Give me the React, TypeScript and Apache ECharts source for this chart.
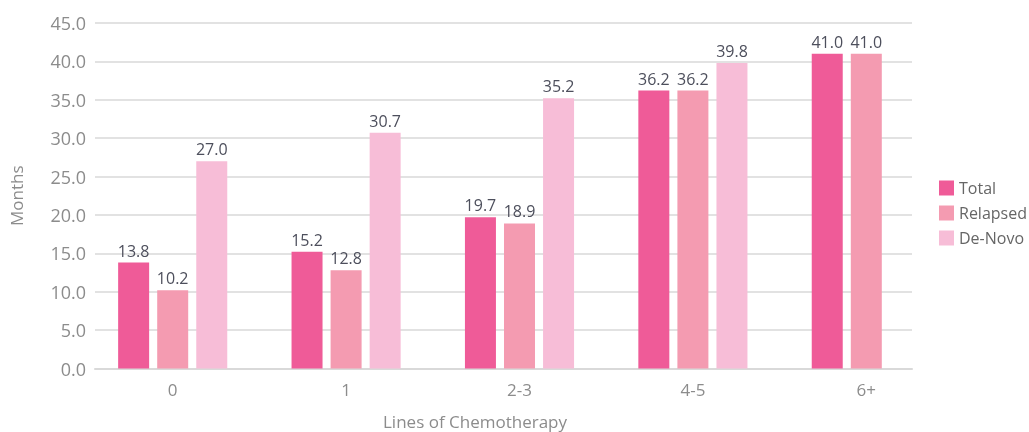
import React, { useEffect, useRef } from "react";
import * as echarts from "echarts";

const categories = ["0", "1", "2-3", "4-5", "6+"];
const totalValues = [13.8, 15.2, 19.7, 36.2, 41.0];
const relapsedValues = [10.2, 12.8, 18.9, 36.2, 41.0];
const deNovoValues: (number | null)[] = [27.0, 30.7, 35.2, 39.8, null];
const seriesNames = ["Total", "Relapsed", "De-Novo"];
const colors = ["#ef5b98", "#f49bb1", "#f7bdd7"];

const FONT = "'Open Sans', sans-serif";

export default function App() {
  const ref = useRef<HTMLDivElement>(null);
  useEffect(() => {
    if (!ref.current) return;
    const chart = echarts.init(ref.current, undefined, { renderer: "svg" });
    const label = {
      show: true,
      position: "top" as const,
      distance: 4,
      color: "#4d4f5c",
      fontSize: 16,
      fontFamily: FONT,
      formatter: (p: any) => (p.value == null ? "" : Number(p.value).toFixed(1)),
    };
    const data = [totalValues, relapsedValues, deNovoValues];
    chart.setOption({
      animation: false,
      textStyle: { fontFamily: FONT },
      grid: [
        { left: 86, top: 23, width: 867, bottom: 63.5, containLabel: false },
        { left: 86, top: 23, right: 117, bottom: 63.5, containLabel: false },
      ],
      legend: {
        orient: "vertical",
        left: 934,
        top: 175,
        itemWidth: 15,
        itemHeight: 15,
        itemGap: 9,
        icon: "rect",
        textStyle: { color: "#666666", fontSize: 16, fontFamily: FONT },
        data: seriesNames,
      },
      xAxis: [
        {
          type: "category",
          gridIndex: 0,
          data: categories,
          axisLine: { show: false },
          axisTick: { show: false },
          axisLabel: { color: "#8c8c8c", fontSize: 17, margin: 12, fontFamily: FONT },
        },
        {
          type: "category",
          gridIndex: 1,
          data: categories,
          show: true,
          axisLine: { show: true, lineStyle: { color: "#d9d9d9", width: 2 } },
          axisTick: { show: false },
          axisLabel: { show: false },
        },
      ],
      yAxis: [
        {
          type: "value",
          gridIndex: 0,
          min: 0,
          max: 45,
          interval: 5,
          show: false,
          splitLine: { show: false },
        },
        {
          type: "value",
          gridIndex: 1,
          min: 0,
          max: 45,
          interval: 5,
          name: "Months",
          nameLocation: "middle",
          nameGap: 70,
          nameTextStyle: { color: "#8c8c8c", fontSize: 17, fontFamily: FONT },
          axisLine: { show: false },
          axisTick: { show: false },
          axisLabel: {
            color: "#8c8c8c",
            fontSize: 18,
            margin: 9,
            fontFamily: FONT,
            formatter: (v: number) => v.toFixed(1),
          },
          splitLine: { show: true, lineStyle: { color: "#d9d9d9", width: 1.5 } },
        },
      ],
      graphic: [
        {
          type: "text",
          x: 383,
          y: 421,
          style: {
            text: "Lines of Chemotherapy",
            fill: "#8c8c8c",
            font: `17px ${FONT}`,
            verticalAlign: "middle",
            align: "left",
          },
        },
      ],
      series: seriesNames.map((name, i) => ({
        name,
        type: "bar",
        xAxisIndex: 0,
        yAxisIndex: 0,
        data: data[i],
        barWidth: 31,
        barGap: "26%",
        itemStyle: { color: colors[i] },
        label,
      })),
    });
    return () => chart.dispose();
  }, []);
  return (
    <div
      ref={ref}
      style={{ position: "fixed", left: 0, top: 0, width: 1029, height: 432 }}
    />
  );
}
